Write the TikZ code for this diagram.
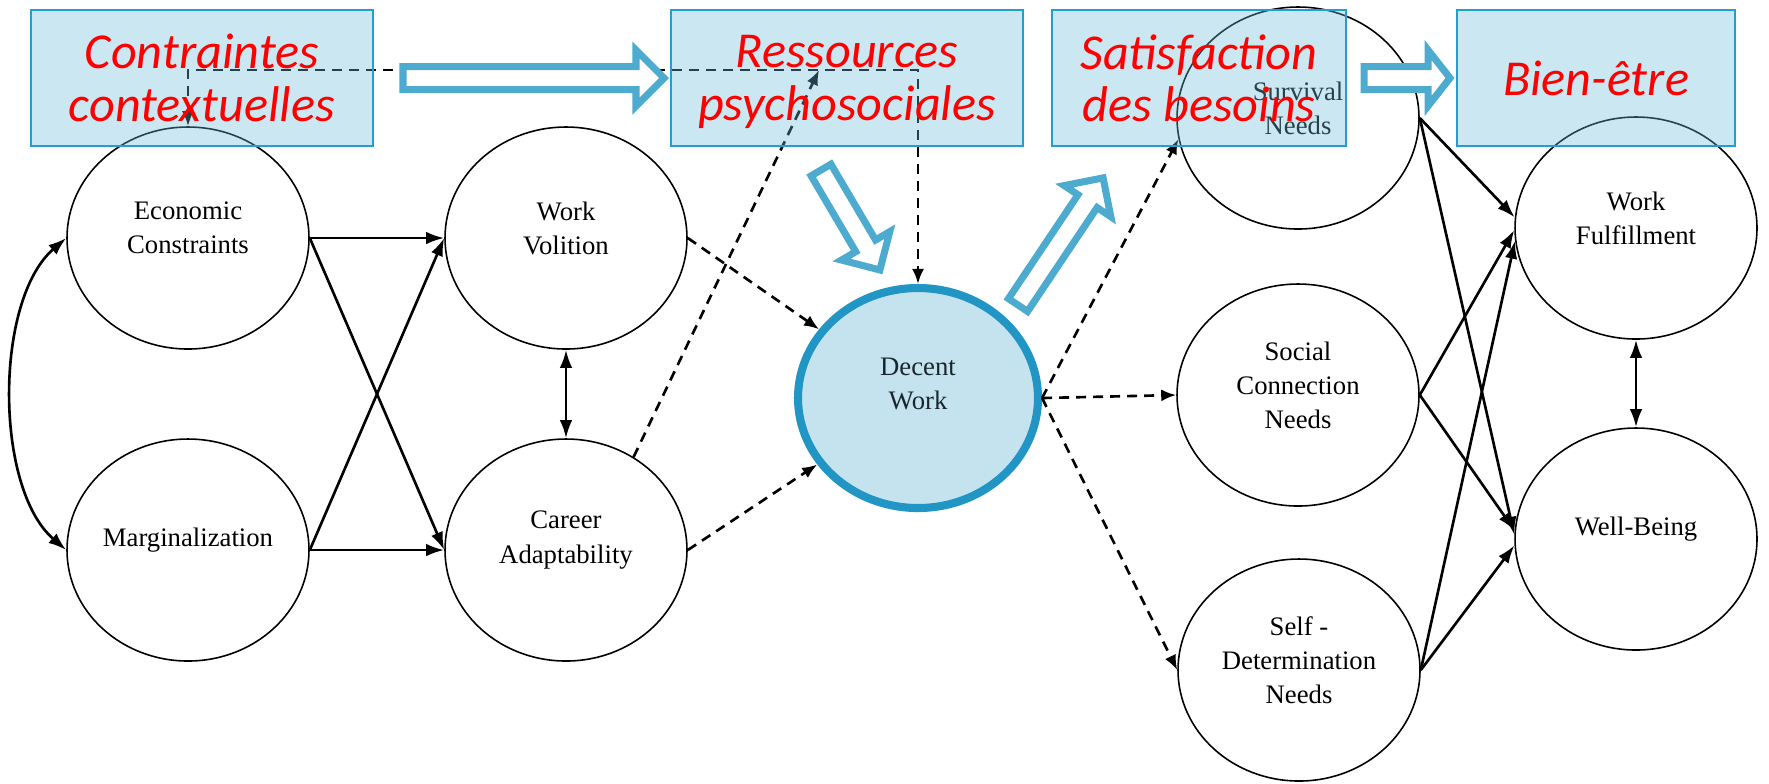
\documentclass[tikz,border=0pt]{standalone}
\usepackage{fontspec}
\setmainfont{Liberation Serif}
\newfontfamily\redfont{Carlito}
\usetikzlibrary{shapes.geometric,arrows.meta,calc}

\definecolor{boxfill}{RGB}{106,189,218}
\definecolor{boxline}{RGB}{35,158,210}
\definecolor{arrowblue}{RGB}{76,171,206}
\definecolor{dwfill}{RGB}{197,227,239}
\definecolor{dwline}{RGB}{33,150,197}
\definecolor{dwtext}{RGB}{25,38,45}

% hollow block arrow: tail point, angle, length, head length
\newcommand{\hollowarrow}[4]{%
  \begin{scope}[shift={#1}, rotate=#2]
    \draw[hollow] (0,-11.5) -- ({#3-#4},-11.5) -- ({#3-#4},-28) -- (#3,0)
      -- ({#3-#4},28) -- ({#3-#4},11.5) -- (0,11.5) -- cycle;
  \end{scope}}

\begin{document}
\begin{tikzpicture}[x=0.1mm, y=-0.1mm,
  var/.style={ellipse, draw, line width=0.45pt, minimum width=24.2mm,
    minimum height=22.2mm, inner sep=0pt},
  lbl/.style={align=center, font=\fontsize{7.6}{9.7}\selectfont, yshift=1mm},
  link/.style={line width=0.75pt, -{Latex[length=1.8mm,width=1.25mm]}},
  link2/.style={line width=0.75pt, {Latex[length=1.8mm,width=1.25mm]}-{Latex[length=1.8mm,width=1.25mm]}},
  dlink/.style={line width=0.75pt, dash pattern=on 1mm off 0.7mm,
    -{Latex[length=1.5mm,width=1.2mm]}},
  dlink2/.style={line width=0.75pt, dash pattern=on 1mm off 0.7mm,
    {Latex[length=1.5mm,width=1.2mm]}-{Latex[length=1.5mm,width=1.2mm]}},
  cbox/.style={rectangle, draw=boxline, line width=0.7pt, fill=boxfill,
    fill opacity=0.35, text opacity=1, minimum height=13.6mm, inner sep=0pt,
    align=center, text=red, text depth=0pt,
    font=\redfont\itshape\fontsize{14.3}{15}\selectfont},
  hollow/.style={draw=arrowblue, line width=2pt, fill=white, line join=miter}]
  \useasboundingbox (0,0) rectangle (1769,783);

  % variables
  \node[var, label={[lbl]center:Economic\\Constraints}] (ec) at (188,238) {};
  \node[var, label={[lbl]center:Marginalization}] (mg) at (188,550) {};
  \node[var, label={[lbl]center:Work\\Volition}] (wv) at (566,238) {};
  \node[var, label={[lbl]center:Career\\Adaptability}] (ca) at (566,550) {};
  \node[var, fill=dwfill, draw=dwline, line width=2.3pt, minimum width=24mm,
    minimum height=22mm, label={[lbl, text=dwtext, yshift=0.4mm]center:Decent\\Work}] (dw) at (918,398) {};
  \node[var, label={[lbl]center:Survival\\Needs}] (sn) at (1298,118) {};
  \node[var, label={[lbl]center:Social\\Connection\\Needs}] (sc) at (1298,395) {};
  \node[var, label={[lbl]center:Self -\\Determination\\Needs}] (sd) at (1299,670) {};
  \node[var, label={[lbl]center:Work\\Fulfillment}] (wf) at (1636,228) {};
  \node[var, label={[lbl]center:Well-Being}] (wb) at (1636,539) {};

  % solid paths
  \draw[link] (ec.east) -- (wv.west);
  \draw[link] (ec.east) -- (ca.west);
  \draw[link] (mg.east) -- (wv.west);
  \draw[link] (mg.east) -- (ca.west);
  \draw[link2] (ec.west) .. controls ($(ec.west)+(-72,62)$) and ($(mg.west)+(-72,-62)$) .. (mg.west);
  \draw[link2] (wv.south) -- (ca.north);
  \draw[link] (sn.east) -- (wf.175);
  \draw[link] (sn.east) -- (wb.178);
  \draw[link] (sc.east) -- (wf.181);
  \draw[link] (sc.east) -- (wb.176);
  \draw[link] (sd.east) -- (wf.186);
  \draw[link] (sd.east) -- (wb.183);
  \draw[link2] (wf.south) -- (wb.north);

  % dashed paths
  \coordinate (mod) at (819,70);
  \draw[dlink2] (ec.north) -- (ec.north |- mod) -- (mod -| dw.north) -- (dw.north);
  \draw[dlink] (ca.54) -- (mod);
  \draw[dlink] (wv.east) -- (dw);
  \draw[dlink] (ca.east) -- (dw);
  \draw[dlink] (dw.east) -- (sn.190);
  \draw[dlink] (dw.east) -- (sc.west);
  \draw[dlink] (dw.east) -- (sd.west);

  % headings
  \node[cbox, minimum width=34.2mm] (cc) at (202,78) {Contraintes\\contextuelles};
  \node[cbox, minimum width=35.2mm] (rp) at (847,78) {Ressources\\psychosociales};
  \node[cbox, minimum width=29.4mm] (sb) at (1199,78) {Satisfaction\\des besoins};
  \node[cbox, minimum width=27.8mm] (be) at (1596,78) {Bien-être};

  % block arrows
  \hollowarrow{(403,78)}{0}{261}{28}
  \hollowarrow{(1364,78)}{0}{86}{22}
  \hollowarrow{(821,170)}{-59.5}{116}{28}
  \hollowarrow{(1018,305)}{56.2}{153}{28}
\end{tikzpicture}
\end{document}
